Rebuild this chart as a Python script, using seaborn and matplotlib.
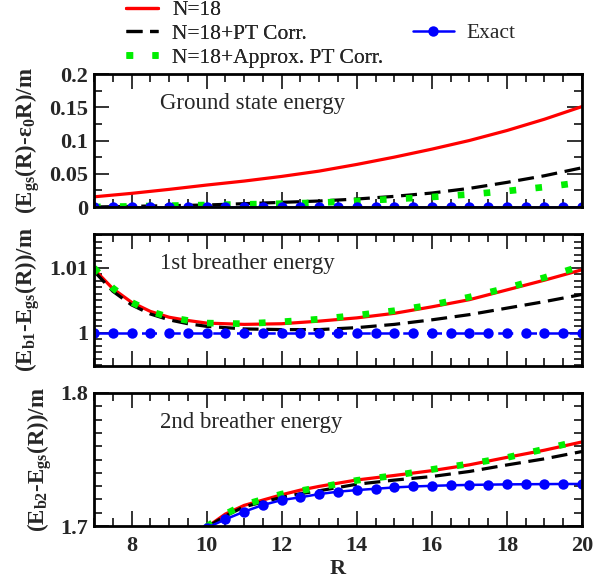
import numpy as np
import pandas as pd
import matplotlib
matplotlib.use("Agg")
import matplotlib.pyplot as plt
from matplotlib.ticker import MultipleLocator, FormatStrFormatter
import seaborn as sns

# ---------------- data ----------------
# Panel 1: ground state energy
R_gs = [7, 8, 9, 10, 11, 12, 13, 14, 15, 16, 17, 18, 19, 20]
gs_n18 = [0.0153, 0.0205, 0.0265, 0.033, 0.039, 0.046, 0.054, 0.064, 0.075, 0.087, 0.100, 0.115, 0.132, 0.151]
gs_pt = [0.0, 0.001, 0.002, 0.003, 0.005, 0.007, 0.009, 0.012, 0.016, 0.021, 0.028, 0.037, 0.047, 0.059]
gs_approx = [0.0, 0.001, 0.002, 0.003, 0.004, 0.005, 0.0065, 0.009, 0.012, 0.015, 0.019, 0.024, 0.030, 0.037]
R_exact1 = [7 + 0.5 * i for i in range(27)]
gs_exact = [0.0] * 27

# Panel 2: 1st breather energy
R_b1 = [7, 7.5, 8, 8.5, 9, 9.5, 10, 11, 12, 13, 14, 15, 16, 17, 18, 19, 20]
b1_n18 = [1.0098, 1.0068, 1.0047, 1.0033, 1.0024, 1.0019, 1.0015, 1.0013, 1.0014, 1.0018, 1.0023,
          1.0030, 1.0040, 1.0051, 1.0066, 1.0081, 1.0097]
b1_pt = [1.0095, 1.0064, 1.0043, 1.0029, 1.0020, 1.0014, 1.0010, 1.0006, 1.0005, 1.0005, 1.0008,
         1.0013, 1.0020, 1.0028, 1.0038, 1.0048, 1.0059]
b1_approx = [1.0100, 1.0069, 1.0047, 1.0033, 1.0024, 1.0019, 1.0015, 1.0014, 1.0017, 1.0021, 1.0027,
             1.0034, 1.0043, 1.0055, 1.0069, 1.0085, 1.0103]
b1_exact = [1.0] * 27

# Panel 3: 2nd breather energy
R_b2 = [10, 10.5, 11, 11.5, 12, 12.5, 13, 14, 15, 16, 17, 18, 19, 20]
b2_n18 = [1.699, 1.709, 1.7155, 1.7195, 1.7235, 1.7270, 1.7298, 1.7346, 1.738, 1.7416, 1.746, 1.7516, 1.757, 1.7632]
b2_pt = [1.699, 1.7075, 1.7145, 1.718, 1.7215, 1.7243, 1.7265, 1.7314, 1.7345, 1.7372, 1.741, 1.7459, 1.7505, 1.756]
b2_approx = [1.6995, 1.709, 1.716, 1.7200, 1.724, 1.7265, 1.729, 1.7343, 1.7379, 1.7425, 1.7467, 1.7515, 1.7578, 1.7645]
R_exact3 = [10 + 0.5 * i for i in range(21)]
b2_exact = [1.6985, 1.705, 1.7108, 1.7158, 1.7195, 1.7216, 1.724, 1.7258, 1.727, 1.728, 1.729, 1.7297,
            1.7302, 1.7306, 1.7309, 1.7311, 1.7313, 1.7314, 1.7315, 1.7316, 1.7316]

labels = ["N=18", "N=18+PT Corr.", "N=18+Approx. PT Corr.", "Exact"]
titles = ["Ground state energy", "1st breather energy", "2nd breather energy"]
ylabels = [r"(E$_{\mathregular{gs}}$(R)-$\mathregular{\varepsilon}_{\mathregular{0}}$R)/m",
           r"(E$_{\mathregular{b1}}$-E$_{\mathregular{gs}}$(R))/m",
           r"(E$_{\mathregular{b2}}$-E$_{\mathregular{gs}}$(R))/m"]

# ---------------- style ----------------
sns.set_style("ticks")
plt.rcParams["font.family"] = ["Liberation Serif", "DejaVu Serif"]
plt.rcParams["mathtext.fontset"] = "custom"
plt.rcParams["mathtext.rm"] = "Liberation Serif:bold"
plt.rcParams["mathtext.it"] = "Liberation Serif:bold"
plt.rcParams["mathtext.bf"] = "Liberation Serif:bold"

RED = "#ff0000"
BLK = "#000000"
GRN = "#00ee00"
BLU = "#0000ff"

fig = plt.figure(figsize=(5.94, 5.82), dpi=100)
L, Rr = 94 / 594, 582 / 594
boxes = [(74, 207), (234, 366), (393, 526)]
axes = []
for (t, b) in boxes:
    ax = fig.add_axes([L, 1 - b / 582, Rr - L, (b - t) / 582])
    axes.append(ax)

def draw(ax, R, n18, pt, approx, Rex, ex, exact_ls="-"):
    sns.lineplot(x=R, y=n18, ax=ax, color=RED, lw=2.3, label=labels[0], legend=False)
    sns.lineplot(x=R, y=pt, ax=ax, color=BLK, lw=2.3, label=labels[1], legend=False,
                 linestyle=(0, (5, 2.4)))
    sns.lineplot(x=R, y=approx, ax=ax, color=GRN, lw=4.8, label=labels[2], legend=False,
                 linestyle=(0, (1, 2.9)), dash_capstyle="butt")
    sns.lineplot(x=Rex, y=ex, ax=ax, color=BLU, lw=1.8, marker="o", markersize=7.5,
                 markeredgecolor=BLU, markeredgewidth=0, label=labels[3], legend=False,
                 linestyle=exact_ls)

draw(axes[0], R_gs, gs_n18, gs_pt, gs_approx, R_exact1, gs_exact)
draw(axes[1], R_b1, b1_n18, b1_pt, b1_approx, R_exact1, b1_exact, exact_ls=(0, (6, 3.5)))
draw(axes[2], R_b2, b2_n18, b2_pt, b2_approx, R_exact3, b2_exact)

ylims = [(0, 0.2), (1 - 0.0051, 1.0152), (1.7, 1.8)]
ymaj = [0.05, 0.01, 0.1]
ymin = [0.025, 0.001, 0.01]
for i, ax in enumerate(axes):
    ax.set_xlim(7, 20)
    ax.set_ylim(*ylims[i])
    ax.xaxis.set_major_locator(MultipleLocator(2))
    ax.xaxis.set_minor_locator(MultipleLocator(0.5))
    ax.yaxis.set_major_locator(MultipleLocator(ymaj[i]))
    ax.yaxis.set_minor_locator(MultipleLocator(ymin[i]))
    ax.yaxis.set_major_formatter(FormatStrFormatter("%g"))
    ax.tick_params(which="both", direction="in", top=True, right=True, width=1.4, color="#333333")
    ax.tick_params(which="major", length=11)
    ax.tick_params(which="minor", length=6)
    ax.tick_params(axis="y", labelsize=16, pad=4)
    ax.tick_params(axis="x", labelsize=16, pad=7)
    for lab in ax.get_yticklabels() + ax.get_xticklabels():
        lab.set_fontweight("bold")
    for s in ax.spines.values():
        s.set_linewidth(2.0)
        s.set_color("black")
    ax.set_ylabel(ylabels[i], fontsize=16.5, fontweight="bold", labelpad=5)
    ax.text(0.135, 0.78, titles[i], transform=ax.transAxes, fontsize=16.5, ha="left", va="center")
    ax.set_xlabel("")
    if i < 2:
        ax.tick_params(axis="x", labelbottom=False)

axes[2].set_xlabel("R", fontsize=16, fontweight="bold", labelpad=2)

handles, labs = axes[0].get_legend_handles_labels()
leg1 = fig.legend(handles[:3], labs[:3], loc="upper left", bbox_to_anchor=(126 / 594, 1.0),
                  frameon=False, fontsize=15.5, handlelength=1.5, handletextpad=0.65,
                  labelspacing=0.18, borderpad=0.0, borderaxespad=0.0)
leg2 = fig.legend(handles[3:], labs[3:], loc="upper left", bbox_to_anchor=(413 / 594, 1 - 23 / 582),
                  frameon=False, fontsize=15.5, handlelength=1.9, handletextpad=0.6,
                  borderpad=0.0, borderaxespad=0.0)
fig.add_artist(leg1)

fig.savefig("out.png", dpi=100)
